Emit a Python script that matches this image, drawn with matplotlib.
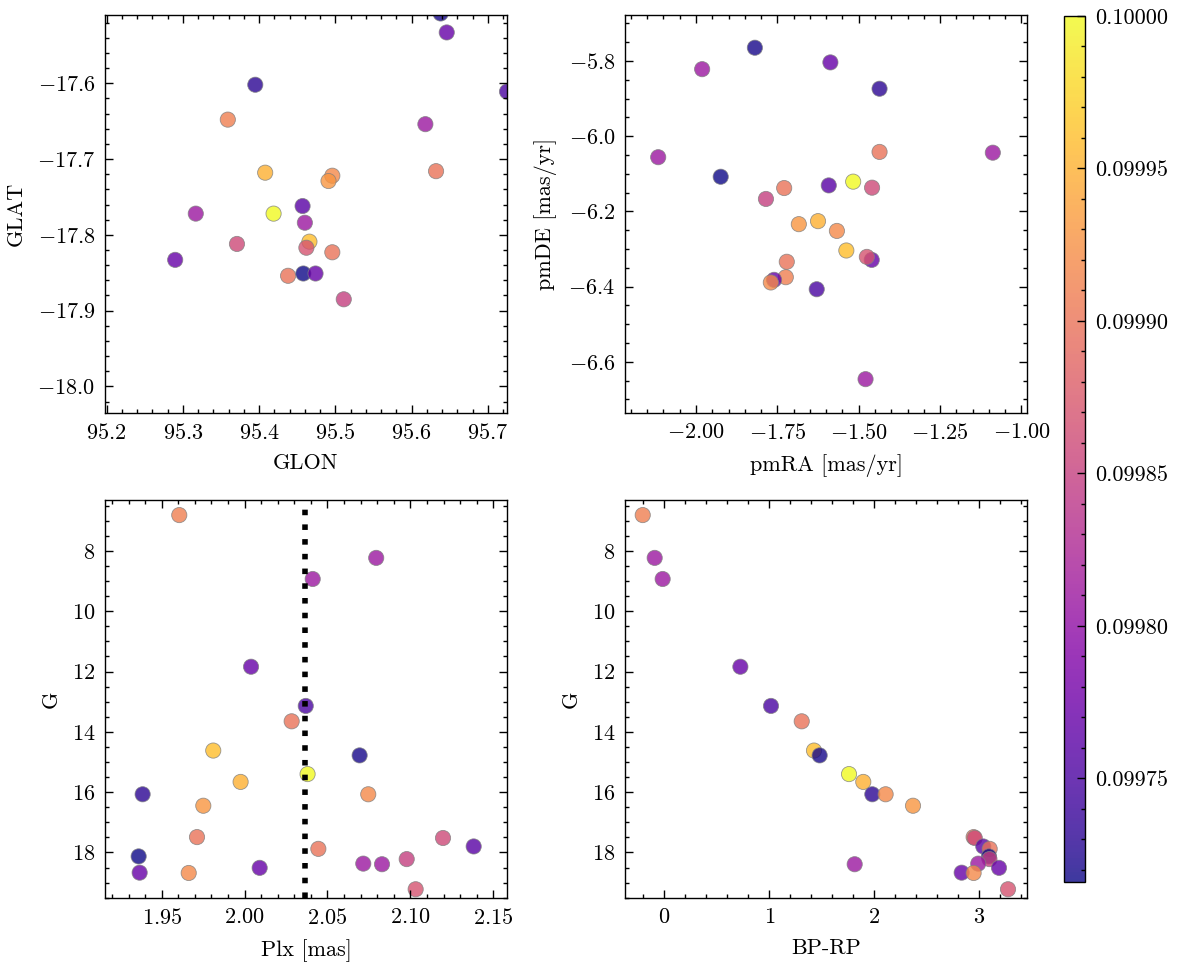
import numpy as np
from matplotlib import pyplot as plt
from matplotlib.ticker import AutoMinorLocator, MultipleLocator, FormatStrFormatter

# cluster members, values
glon = [95.359, 95.460, 95.618, 95.646, 95.725, 95.632, 95.466, 95.638, 95.419, 95.408,
        95.395, 95.496, 95.491, 95.496, 95.371, 95.457, 95.438, 95.458, 95.511, 95.317,
        95.780, 95.474, 95.290, 95.550, 95.462]
glat = [-17.648, -17.784, -17.654, -17.533, -17.611, -17.716, -17.809, -17.508, -17.772, -17.718,
        -17.602, -17.722, -17.729, -17.823, -17.812, -17.762, -17.854, -17.851, -17.885, -17.772,
        -17.580, -17.851, -17.833, -18.070, -17.817]
pmra = [-1.724, -1.981, -2.116, -1.587, -1.629, -1.436, -1.538, -1.819, -1.517, -1.625,
        -1.436, -1.567, -1.684, -1.729, -1.459, -1.592, -1.721, -1.924, -1.785, -1.088,
        -1.479, -1.460, -1.760, -1.770, -1.475]
pmde = [-6.375, -5.822, -6.056, -5.804, -6.407, -6.042, -6.304, -5.765, -6.121, -6.226,
        -5.874, -6.252, -6.234, -6.138, -6.137, -6.131, -6.334, -6.108, -6.167, -6.044,
        -6.646, -6.329, -6.382, -6.389, -6.321]
plx = [1.9606, 2.0794, 2.0411, 2.0039, 2.0369, 2.0284, 1.9811, 2.0694, 2.0380, 1.9976,
       1.9385, 2.0746, 1.9751, 1.9713, 2.1197, 2.1382, 2.0445, 1.9361, 2.0978, 2.0716,
       2.0829, 2.0091, 1.9367, 1.9663, 2.1032]
gmag = [6.81, 8.23, 8.93, 11.84, 13.14, 13.65, 14.62, 14.78, 15.40, 15.66,
        16.07, 16.07, 16.45, 17.49, 17.52, 17.80, 17.88, 18.13, 18.22, 18.37,
        18.39, 18.51, 18.67, 18.68, 19.22]
bprp = [-0.206, -0.092, -0.016, 0.725, 1.017, 1.310, 1.427, 1.481, 1.761, 1.897,
        1.983, 2.110, 2.371, 2.949, 2.960, 3.041, 3.102, 3.095, 3.100, 2.993,
        1.815, 3.191, 2.835, 2.949, 3.277]
prob = [0.09991, 0.09981, 0.09981, 0.09977, 0.09975, 0.09990, 0.09996, 0.09972, 0.10000, 0.09995,
        0.09973, 0.09992, 0.09993, 0.09990, 0.09986, 0.09976, 0.09990, 0.099716, 0.09985, 0.09981,
        0.09981, 0.09977, 0.09977, 0.09992, 0.09987]
plx_line = 2.0364

plt.rcParams["font.family"] = "serif"
plt.rcParams["font.serif"] = ["cmr10"]
plt.rcParams["mathtext.fontset"] = "cm"
plt.rcParams["axes.formatter.use_mathtext"] = True
plt.rcParams["font.size"] = 8
plt.rcParams["axes.linewidth"] = 0.5
for a in ["xtick", "ytick"]:
    plt.rcParams[a + ".direction"] = "in"
    plt.rcParams[a + ".major.size"] = 3
    plt.rcParams[a + ".minor.size"] = 1.5
    plt.rcParams[a + ".major.width"] = 0.5
    plt.rcParams[a + ".minor.width"] = 0.5
    plt.rcParams[a + ".minor.visible"] = True
plt.rcParams["xtick.top"] = True
plt.rcParams["ytick.right"] = True

fig = plt.figure(figsize=(5.885, 4.825), dpi=200)
W, H = 1177, 965
def box(l, t, r, b):
    return [l / W, 1 - b / H, (r - l) / W, (b - t) / H]

ax1 = fig.add_axes(box(105, 15, 507, 413))
ax2 = fig.add_axes(box(625, 15, 1027, 413))
ax3 = fig.add_axes(box(105, 500, 507, 898))
ax4 = fig.add_axes(box(625, 500, 1027, 898))
cax = fig.add_axes(box(1064, 16, 1085, 882))

kw = dict(c=prob, cmap="plasma", s=30, alpha=0.8, edgecolors="grey", linewidths=0.3)

sc = ax1.scatter(glon, glat, **kw)
ax1.set_xlim(95.198, 95.725)
ax1.set_ylim(-18.035, -17.51)
ax1.set_xlabel("GLON")
ax1.set_ylabel("GLAT")

ax2.scatter(pmra, pmde, **kw)
ax2.set_xlim(-2.218, -0.983)
ax2.set_ylim(-6.736, -5.678)
ax2.set_xlabel("pmRA [mas/yr]")
ax2.set_ylabel("pmDE [mas/yr]")

ax3.scatter(plx, gmag, **kw)
ax3.axvline(plx_line, color="k", ls=":", lw=2)
ax3.set_xlim(1.9158, 2.1583)
ax3.set_ylim(19.51, 6.31)
ax3.set_xlabel("Plx [mas]")
ax3.set_ylabel("G")

ax4.scatter(bprp, gmag, **kw)
ax4.set_xlim(-0.375, 3.458)
ax4.set_ylim(19.51, 6.31)
ax4.set_xlabel("BP-RP")
ax4.set_ylabel("G")

for ax in [ax1, ax2, ax3, ax4]:
    ax.xaxis.set_minor_locator(AutoMinorLocator())
    ax.yaxis.set_minor_locator(AutoMinorLocator())

cb = fig.colorbar(sc, cax=cax)
cb.outline.set_linewidth(0.5)
cb.ax.yaxis.set_major_locator(MultipleLocator(0.00005))
cb.ax.yaxis.set_minor_locator(MultipleLocator(0.00001))
cb.ax.yaxis.set_major_formatter(FormatStrFormatter("%.5f"))
cb.ax.tick_params(which="both", direction="in", right=True, left=False)

fig.savefig("out.png", dpi=200)
